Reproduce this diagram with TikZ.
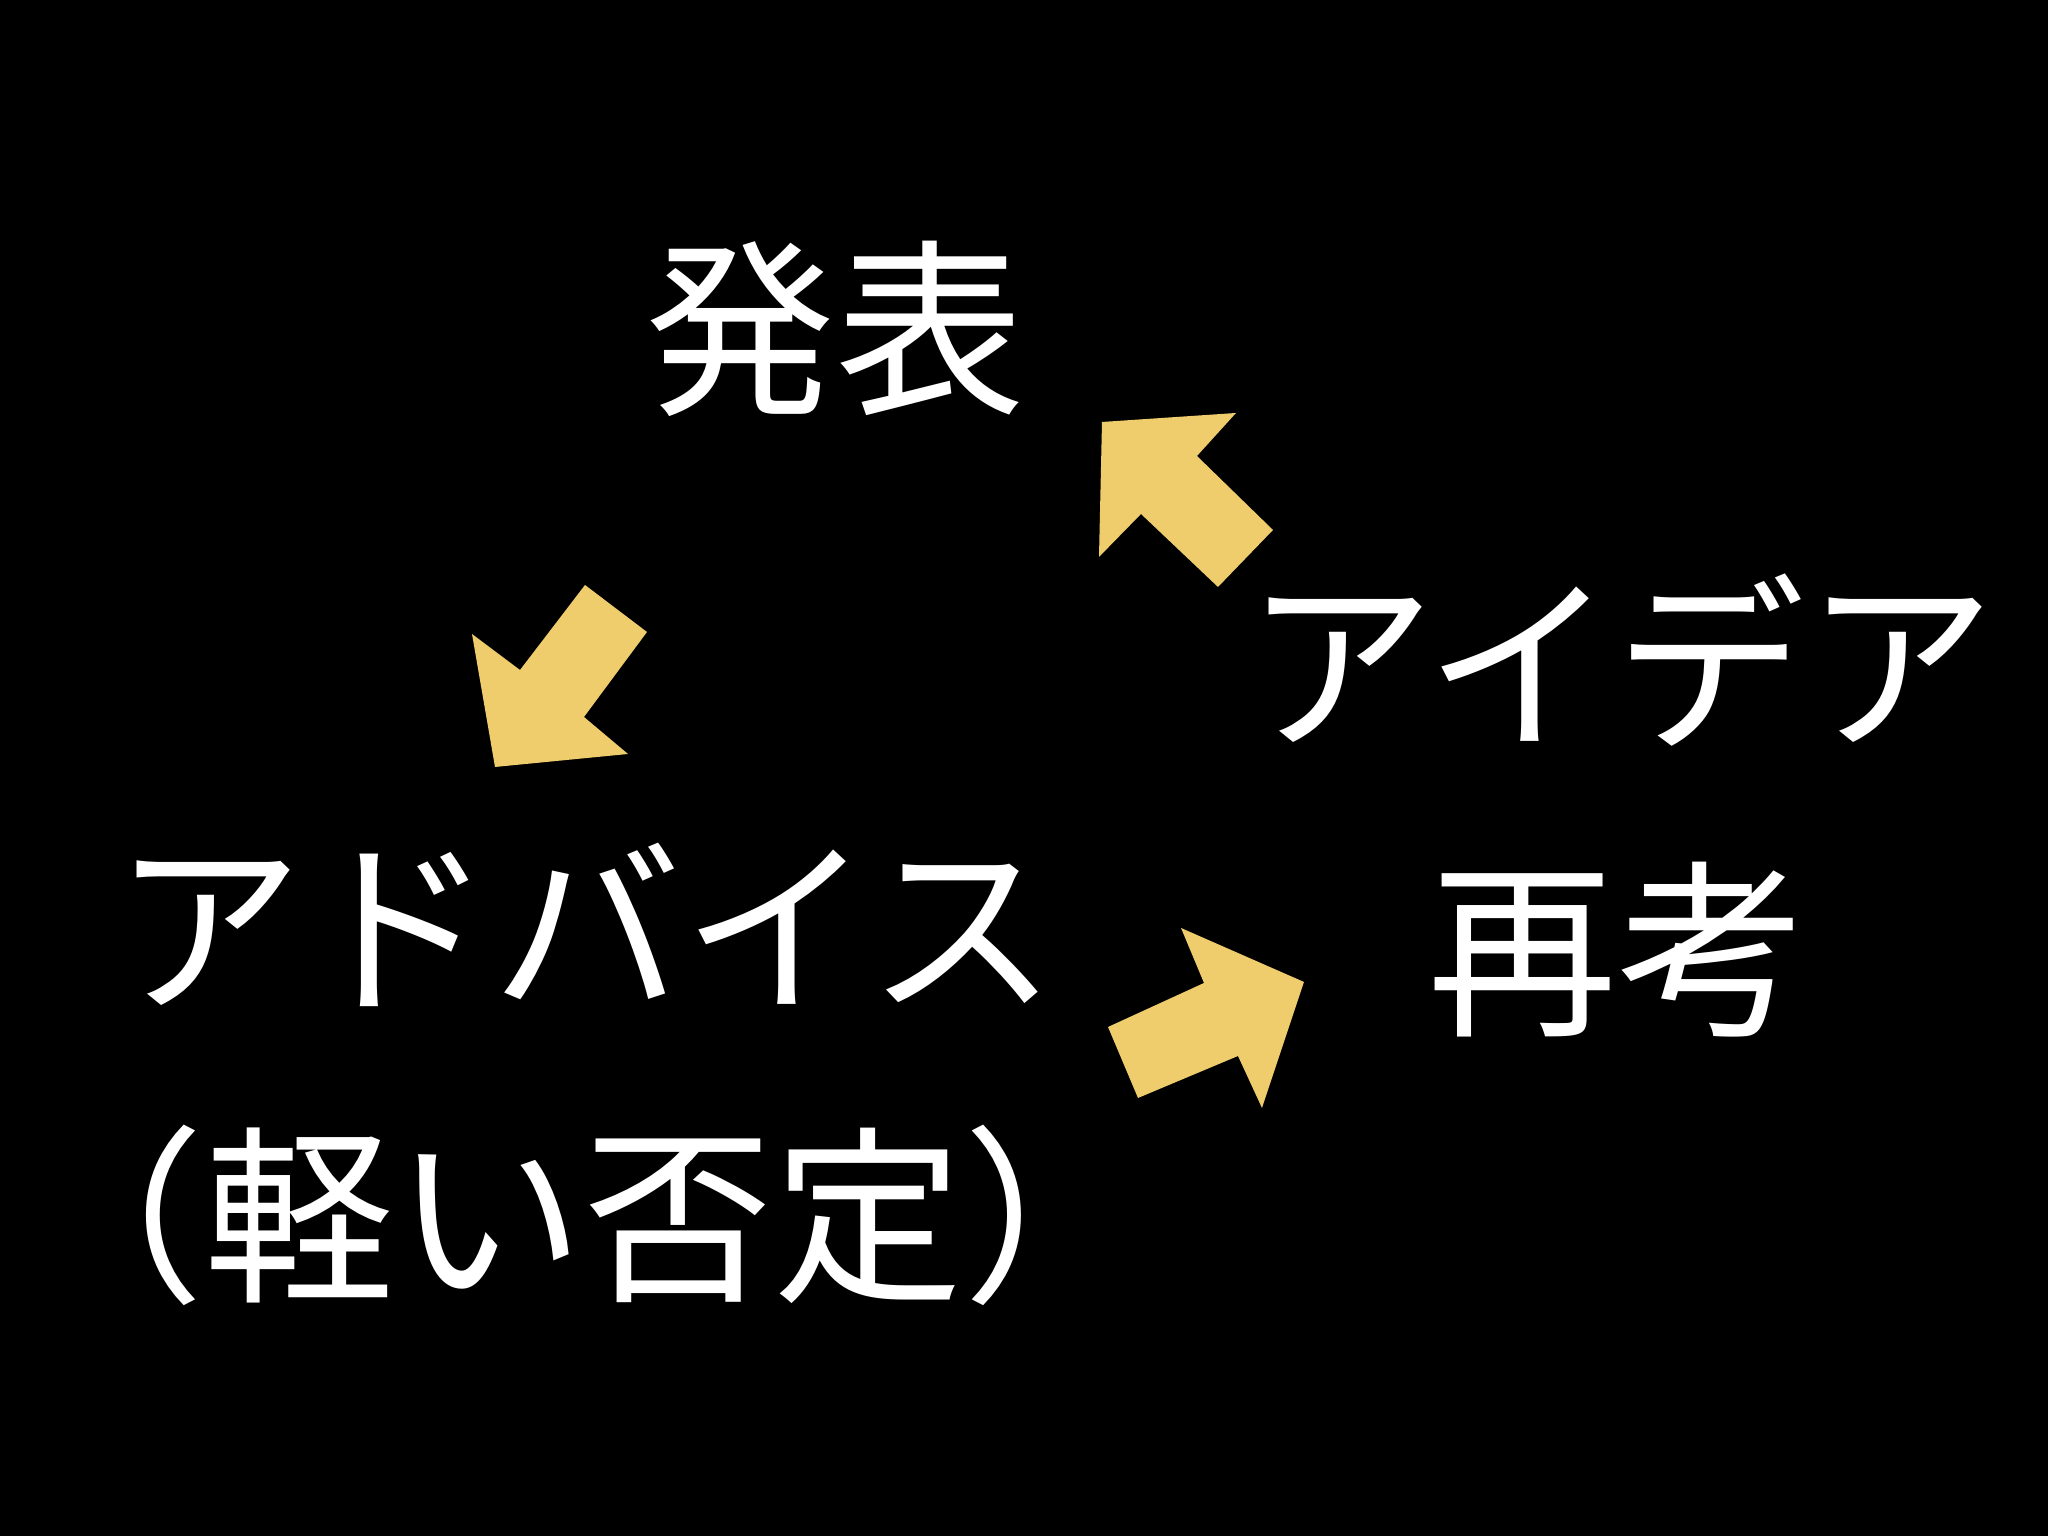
\documentclass[tikz,border=0pt]{standalone}
\usepackage{fontspec}
\newfontfamily\jpfont{Noto Sans CJK JP}
\usepackage{xcolor}
\definecolor{arrowgold}{RGB}{239,205,108}

\tikzset{
  word/.style={text=white,font=\jpfont\fontsize{54}{60}\selectfont,inner sep=0pt},
  blockarrow/.style={fill=arrowgold,draw=none}
}

\begin{document}
\begin{tikzpicture}
  \fill[black] (0,0) rectangle (20.48,15.36);
  \useasboundingbox (0,0) rectangle (20.48,15.36);

  \node[word] (happyou) at (8.35,12.07) {発表};
  \node[word] (idea) at (16.20,8.76) {アイデア};
  \node[word] (advice) at (5.85,6.11) {アドバイス};
  \node[word] (hitei) at (5.84,3.21) {（軽い否定）};
  \node[word] (saikou) at (16.17,5.86) {再考};

  % idea -> happyou
  \fill[blockarrow] (11.02,11.14) -- (12.36,11.23) -- (11.97,10.80) -- (12.73,10.06)
    -- (12.18,9.49) -- (11.41,10.22) -- (10.99,9.79) -- cycle;
  % happyou -> advice
  \fill[blockarrow] (5.85,9.51) -- (6.47,9.04) -- (5.84,8.19) -- (6.28,7.82)
    -- (4.95,7.69) -- (4.72,9.02) -- (5.20,8.66) -- cycle;
  % advice -> saikou
  \fill[blockarrow] (11.81,6.08) -- (13.04,5.54) -- (12.62,4.28) -- (12.38,4.80)
    -- (11.38,4.38) -- (11.08,5.09) -- (12.04,5.53) -- cycle;
\end{tikzpicture}
\end{document}
